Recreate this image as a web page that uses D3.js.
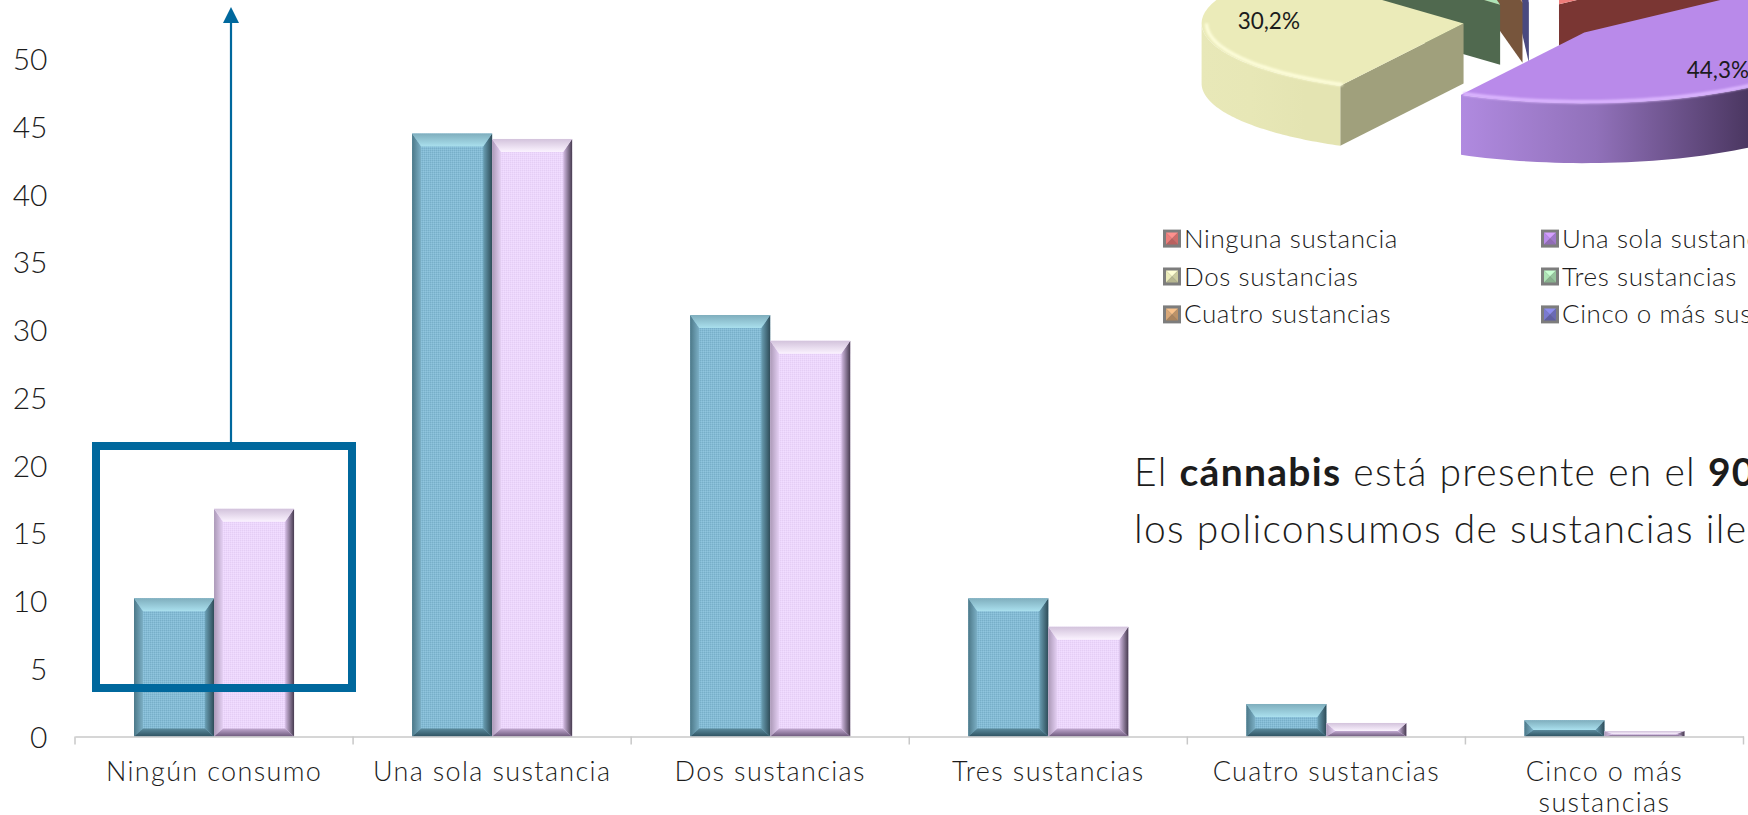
<!DOCTYPE html>
<html lang="es">
<head>
<meta charset="utf-8">
<script src="https://cdn.jsdelivr.net/npm/d3@7/dist/d3.min.js"></script>
<style>
html,body{margin:0;padding:0;background:#fff;overflow:hidden}
svg{display:block}
text{font-family:Lato,"Open Sans",sans-serif;font-weight:300;fill:#1c1c1c}
</style>
</head>
<body>
<svg id="c" width="1748" height="815" viewBox="0 0 1748 815"></svg>
<script>
// ---- data ----
const categories = [["Ningún consumo"],["Una sola sustancia"],["Dos sustancias"],["Tres sustancias"],["Cuatro sustancias"],["Cinco o más","sustancias"]];
const seriesA = [10.2,44.5,31.1,10.2,2.4,1.2];
const seriesB = [16.8,44.1,29.2,8.1,1.0,0.4];
const yTicks = [0,5,10,15,20,25,30,35,40,45,50];
const pieNames = ["Ninguna sustancia","Una sola sustancia","Dos sustancias","Tres sustancias","Cuatro sustancias","Cinco o más sustancias"];
const pieValues = [13.5,44.3,30.2,9.0,2.0,1.0];
const pieLabels = [null,"44,3%","30,2%",null,null,null];
const pieTop  = ["#ee7d7a","#b98aea","#ebebb9","#aee3b6","#d9a878","#7a7ad0"];
const pieFace = ["#7a3633","#6d4f90","#a0a07c","#50694f","#77553c","#4a4a80"];
const pieRim  = ["#ffa8a5","#dcb6ff","#fdfdd9","#d0f5d6","#f0c8a0","#a0a0f0"];
const pieWallL= ["#d06a68","#b08ae0","#e8e8b8","#9bc9a2","#c09668","#6a6ab8"];
const pieWallR= ["#603030","#4a3660","#e4e4b2","#50694f","#77553c","#4a4a80"];
const noteLine1 = [["El ",300],["cánnabis",700],[" está presente en el ",300],["90%",700],[" de",300]];
const noteLine2 = [["los policonsumos de sustancias ilegales",300]];
const boxColor = "#00689d";

// ---- layout ----
const svg = d3.select("#c");
const defs = svg.append("defs");
const x0 = d3.scaleBand().domain(d3.range(categories.length)).range([75,1743.5]);
const x1 = d3.scaleBand().domain([0,1]).range([0,x0.bandwidth()]).paddingInner(0).paddingOuter(0.7375);
const y  = d3.scaleLinear().domain([0,50]).range([736.5,59]);
const catStyle = {size:27, spacing:1.35};
const legendStyle = {size:26, spacing:0.6};
const noteStyle = {size:39, spacing:1.3};

function lin(id,dir,stops){
  const g = defs.append("linearGradient").attr("id",id)
    .attr("x1",dir==="l"?1:0).attr("x2",dir==="r"?1:0)
    .attr("y1",dir==="t"?1:0).attr("y2",dir==="b"?1:0);
  stops.forEach((c,i)=>g.append("stop").attr("offset",i/(stops.length-1)).attr("stop-color",c));
}
const bevel = {
 a:{base:"#84bbd5",t:["#aae0ee","#7faebd"],b:["#5c8b9d","#2f5362"],l:["#7cb0c6","#4c7888"],r:["#6a9fb4","#2e4c58"]},
 b:{base:"#ecd6fc",t:["#fbf3ff","#d3c3dc"],b:["#c1a9d0","#6e5a7c"],l:["#e6d1f5","#ab99b7"],r:["#d6bee6","#473b50"]}
};
Object.entries(bevel).forEach(([k,v])=>["t","b","l","r"].forEach(d=>lin("bv"+k+d,d,v[d])));
["a","b"].forEach(k=>{
  const p = defs.append("pattern").attr("id","sp"+k).attr("width",2).attr("height",2).attr("patternUnits","userSpaceOnUse");
  p.append("rect").attr("width",2).attr("height",2).attr("fill",bevel[k].base);
  p.append("rect").attr("width",1).attr("height",1).attr("fill",k==="a"?"#78afc8":"#e4cef4");
  p.append("rect").attr("x",1).attr("y",1).attr("width",1).attr("height",1).attr("fill",k==="a"?"#90c5dd":"#f1deff");
});

// ---- axes ----
const axisY = d3.axisLeft(y).tickValues(yTicks).tickSize(0).tickPadding(0).tickFormat(d3.format("d"));
const gy = svg.append("g").attr("transform","translate(47.5,0)").call(axisY);
gy.select(".domain").remove();
gy.selectAll("text").style("font-size","30px").style("font-family",null).attr("dy","0.35em").attr("fill",null);

// ---- bars ----
function drawBar(g,x,w,yTop,k){
  const yB = y(0), h = yB-yTop;
  const bt = Math.min(13,h*0.6), bb = Math.min(8,h*0.4), bx = Math.min(9,w/2);
  const P = pts=>pts.map(p=>p.join(",")).join(" ");
  g.append("rect").attr("x",x).attr("y",yTop).attr("width",w).attr("height",h).attr("fill",`url(#sp${k})`);
  g.append("polygon").attr("points",P([[x,yTop],[x+bx,yTop+bt],[x+bx,yB-bb],[x,yB]])).attr("fill",`url(#bv${k}l)`);
  g.append("polygon").attr("points",P([[x+w,yTop],[x+w-bx,yTop+bt],[x+w-bx,yB-bb],[x+w,yB]])).attr("fill",`url(#bv${k}r)`);
  g.append("polygon").attr("points",P([[x,yB],[x+bx,yB-bb],[x+w-bx,yB-bb],[x+w,yB]])).attr("fill",`url(#bv${k}b)`);
  g.append("polygon").attr("points",P([[x,yTop],[x+bx,yTop+bt],[x+w-bx,yTop+bt],[x+w,yTop]])).attr("fill",`url(#bv${k}t)`);
}
const gb = svg.append("g");
[[seriesA,"a",0],[seriesB,"b",1]].forEach(([vals,k,i])=>{
  vals.forEach((v,c)=>drawBar(gb.append("g"),x0(c)+x1(i),x1.bandwidth(),y(v),k));
});

const axisX = d3.axisBottom(x0).tickSizeInner(0).tickSizeOuter(0).tickFormat("");
const gx = svg.append("g").attr("transform",`translate(0,${y(0)})`).call(axisX);
gx.select(".domain").attr("stroke","#c8c8c8").attr("stroke-width",1.5);
gx.selectAll(".tick").remove();
gx.selectAll("line.sep").data(d3.range(categories.length+1)).join("line").attr("class","sep")
  .attr("x1",i=>i<categories.length?x0(i):x0.range()[1]).attr("x2",i=>i<categories.length?x0(i):x0.range()[1])
  .attr("y1",0).attr("y2",8).attr("stroke","#c8c8c8").attr("stroke-width",1.5);
const cl = svg.append("g");
categories.forEach((lines,c)=>{
  lines.forEach((t,i)=>cl.append("text").attr("x",x0(c)+x0.bandwidth()/2).attr("y",781+i*31)
    .attr("text-anchor","middle").style("font-size",catStyle.size+"px").style("letter-spacing",catStyle.spacing+"px").text(t));
});

// ---- highlight box + arrow ----
svg.append("rect").attr("x",96).attr("y",446).attr("width",256).attr("height",242)
  .attr("fill","none").attr("stroke",boxColor).attr("stroke-width",8);
svg.append("line").attr("x1",231).attr("x2",231).attr("y1",442).attr("y2",22).attr("stroke",boxColor).attr("stroke-width",2.2);
svg.append("path").attr("d",d3.line()([[231,7],[239,23],[223,23]])+"Z").attr("fill",boxColor);

// ---- exploded 3D pie ----
const R=262, K=0.27, T=60, EX=68, CX=1531, CY=21, LABEL_FRAC={1:0.65,2:0.75}, LABEL_DY={1:9,2:-9};
const arcs = d3.pie().value(d=>d).sort(null)(pieValues);
const arcGen = d3.arc().innerRadius(0).outerRadius(R);
const pt = (a,r)=>[r*Math.sin(a),-K*r*Math.cos(a)];
const lineGen = d3.line();
defs.append("filter").attr("id","soft").append("feGaussianBlur").attr("stdDeviation",1.2);
const gp = svg.append("g");
const order = [5,4,3,0,2,1];
order.forEach(i=>{
  const s = arcs[i], mid=(s.startAngle+s.endAngle)/2;
  const o = pt(mid,EX), ox=CX+o[0], oy=CY+o[1];
  const g = gp.append("g").attr("transform",`translate(${ox},${oy})`);
  const face = a=>{
    const p=pt(a,R);
    g.append("polygon").attr("points",[[0,0],p,[p[0],p[1]+T],[0,T]].map(d=>d.join(",")).join(" ")).attr("fill",pieFace[i]);
  };
  if(Math.sin(s.startAngle)<0) face(s.startAngle);
  if(Math.sin(s.endAngle)>0) face(s.endAngle);
  const a0=Math.max(s.startAngle,Math.PI/2), a1=Math.min(s.endAngle,Math.PI*1.5);
  if(a1>a0){
    const id="wall"+i;
    const gr=defs.append("linearGradient").attr("id",id).attr("gradientUnits","userSpaceOnUse")
      .attr("x1",pt(a1,R)[0]).attr("x2",pt(a0,R)[0]).attr("y1",0).attr("y2",0);
    gr.append("stop").attr("offset",0).attr("stop-color",pieWallL[i]);
    gr.append("stop").attr("offset",0.35).attr("stop-color",d3.interpolateRgb(pieWallL[i],pieWallR[i])(0.3));
    gr.append("stop").attr("offset",0.75).attr("stop-color",pieWallR[i]);
    const angs=d3.range(0,61).map(j=>a0+(a1-a0)*j/60);
    const top=angs.map(a=>pt(a,R)), bot=angs.slice().reverse().map(a=>{const p=pt(a,R);return [p[0],p[1]+T];});
    g.append("path").attr("d",lineGen(top.concat(bot))+"Z").attr("fill",`url(#${id})`);
  }
  g.append("path").attr("transform",`scale(1,${K})`).attr("d",arcGen(s)).attr("fill",pieTop[i]);
  if(a1>a0){
    const angs=d3.range(0,61).map(j=>a0+(a1-a0)*j/60);
    g.append("path").attr("d",lineGen(angs.map(a=>pt(a,R-5)))).attr("fill","none")
      .attr("stroke",pieRim[i]).attr("stroke-width",3.5).attr("filter","url(#soft)");
  }
  if(pieLabels[i]){
    const p=pt(mid,R*LABEL_FRAC[i]);
    g.append("text").attr("x",p[0]).attr("y",p[1]+LABEL_DY[i]).attr("dy","0.35em").attr("text-anchor","middle")
      .style("font-size","22.5px").style("font-weight",400).text(pieLabels[i]);
  }
});

// ---- legend ----
const legendX=[1163,1541], legendY=[238.6,276.5,314.4];
const gl=svg.append("g");
pieNames.forEach((n,i)=>{
  const lx=legendX[i%2], ly=legendY[Math.floor(i/2)], s=18, b=3;
  const g=gl.append("g").attr("transform",`translate(${lx},${ly-s/2})`);
  const c=d3.color(pieTop[i]);
  g.append("rect").attr("width",s).attr("height",s).attr("fill","#7d7d7d");
  g.append("polygon").attr("points",`${b},${b} ${s-b},${b} ${s/2},${s/2}`).attr("fill",c.brighter(0.4));
  g.append("polygon").attr("points",`${b},${b} ${s/2},${s/2} ${b},${s-b}`).attr("fill",c);
  g.append("polygon").attr("points",`${s-b},${b} ${s/2},${s/2} ${s-b},${s-b}`).attr("fill",c.darker(0.4));
  g.append("polygon").attr("points",`${b},${s-b} ${s/2},${s/2} ${s-b},${s-b}`).attr("fill",c.darker(0.7));
  gl.append("text").attr("x",lx+21).attr("y",ly+9).style("font-size",legendStyle.size+"px").style("letter-spacing",legendStyle.spacing+"px").text(n);
});

// ---- note ----
[[noteLine1,486],[noteLine2,543]].forEach(([parts,yy])=>{
  const t=svg.append("text").attr("x",1134).attr("y",yy).style("font-size",noteStyle.size+"px").style("letter-spacing",noteStyle.spacing+"px");
  parts.forEach(([s,w])=>t.append("tspan").style("font-weight",w).text(s));
});
</script>
</body>
</html>
